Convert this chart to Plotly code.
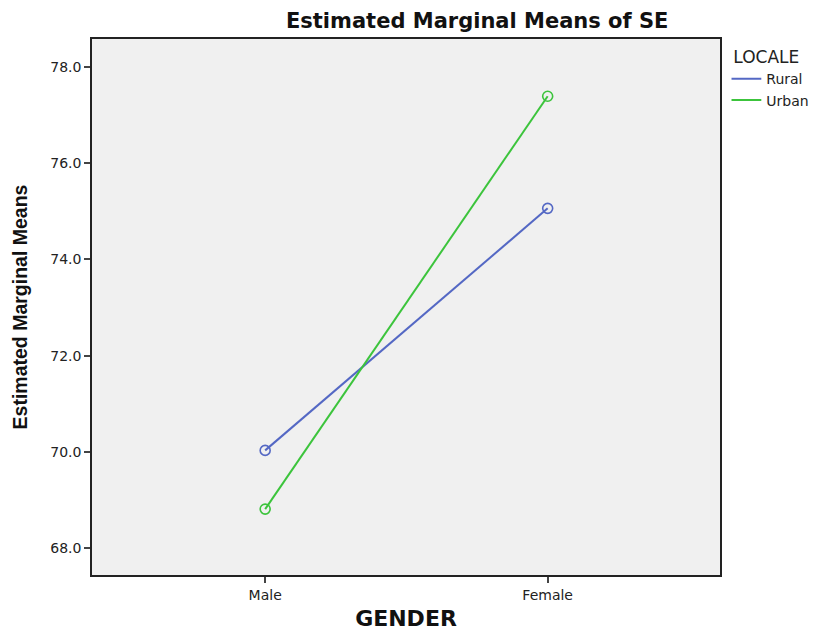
import plotly.graph_objects as go

genders = ["Male", "Female"]
rural = [70.03, 75.06]
urban = [68.81, 77.39]
y_ticks = [68.0, 70.0, 72.0, 74.0, 76.0, 78.0]

WIDE = "DejaVu Sans, Verdana, sans-serif"
ARIAL = "Liberation Sans, Arial, sans-serif"
RURAL_C = "#5468c4"
URBAN_C = "#3cc43c"

fig = go.Figure()
for name, vals, col in [("Rural", rural, RURAL_C), ("Urban", urban, URBAN_C)]:
    fig.add_trace(go.Scatter(x=genders, y=vals, name=name, mode="lines+markers",
                             showlegend=False, legendgroup=name,
                             line=dict(color=col, width=2),
                             marker=dict(symbol="circle-open", size=10, color=col, line=dict(width=1.6))))
for name, col in [("Rural", RURAL_C), ("Urban", URBAN_C)]:
    fig.add_trace(go.Scatter(x=[None], y=[None], name=name, mode="lines", legendgroup=name,
                             line=dict(color=col, width=2)))

fig.update_layout(
    width=813, height=631,
    margin=dict(l=92, r=93, t=39, b=56, autoexpand=False),
    paper_bgcolor="white", plot_bgcolor="#f0f0f0",
    font=dict(family=WIDE, color="#222222"),
    title=dict(text="<b>Estimated Marginal Means of SE</b>", x=0.587, xanchor="center",
               y=0.967, yanchor="middle", font=dict(size=21, color="#111111", family=WIDE)),
    showlegend=True,
    legend=dict(title=dict(text="LOCALE", font=dict(size=17)), font=dict(size=14),
                x=1.018, xanchor="left", y=0.996, yanchor="top", tracegroupgap=0,
                indentation=-5,
                bgcolor="rgba(0,0,0,0)", itemwidth=30),
    xaxis=dict(type="category", categoryorder="array", categoryarray=genders,
               range=[-0.613, 1.61], showgrid=False, zeroline=False, automargin=True,
               showline=True, linecolor="#222222", linewidth=1.5, mirror=True,
               ticks="outside", ticklen=6, tickcolor="#444444", tickwidth=1.5,
               tickfont=dict(size=14),
               title=dict(text="<b>GENDER</b>", font=dict(size=22, color="#111111"), standoff=13)),
    yaxis=dict(range=[67.44, 78.58], tickvals=y_ticks, automargin=True,
               ticktext=[f"{v:.1f}" for v in y_ticks], showgrid=False, zeroline=False,
               showline=True, linecolor="#222222", linewidth=1.5, mirror=True,
               ticks="outside", ticklen=6, tickcolor="#444444", tickwidth=1.5,
               tickfont=dict(size=14),
               title=dict(text="<b>Estimated Marginal Means</b>",
                          font=dict(size=19.5, color="#111111", family=ARIAL), standoff=17)),
)

fig.write_html("out.html", config={"displayModeBar": False},
               post_script="document.body.style.margin='0';")
